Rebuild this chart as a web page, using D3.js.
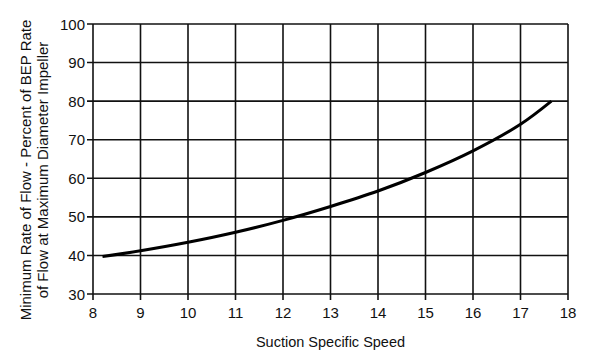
<!DOCTYPE html>
<html><head><meta charset="utf-8">
<script src="https://cdn.jsdelivr.net/npm/d3@7"></script>
<style>body{margin:0;background:#fff}svg{display:block}text{font-family:"Liberation Sans",Arial,sans-serif;fill:#111}</style>
</head><body>
<script>
const xTicks = [8,9,10,11,12,13,14,15,16,17,18];
const yTicks = [30,40,50,60,70,80,90,100];
const speed = [8.2, 9, 10, 11, 12, 13, 14, 15, 16, 17, 17.65];
const minFlow = [39.7, 41.2, 43.4, 46.0, 49.1, 52.7, 56.7, 61.5, 67.1, 74.0, 80.0];
const yLabelLines = ["Minimum Rate of Flow - Percent of BEP Rate", "of Flow at Maximum Diameter Impeller"];
const xLabel = "Suction Specific Speed";

const W=600,H=358;
const m={left:93,right:32,top:24,bottom:64};
const svg=d3.select("body").append("svg").attr("width",W).attr("height",H);
const x=d3.scaleLinear().domain([8,18]).range([m.left,W-m.right]);
const y=d3.scaleLinear().domain([30,100]).range([H-m.bottom,m.top]);

const g=svg.append("g");
// grid
g.selectAll("line.vx").data(xTicks).enter().append("line")
 .attr("x1",d=>x(d)).attr("x2",d=>x(d)).attr("y1",y(100)).attr("y2",y(30)+6)
 .attr("stroke","#111").attr("stroke-width",1.6);
g.selectAll("line.hy").data(yTicks).enter().append("line")
 .attr("x1",x(8)-6).attr("x2",x(18)).attr("y1",d=>y(d)).attr("y2",d=>y(d))
 .attr("stroke","#111").attr("stroke-width",1.6);

// tick labels
g.selectAll("text.xt").data(xTicks).enter().append("text")
 .attr("x",d=>x(d)).attr("y",y(30)+24).attr("text-anchor","middle")
 .attr("font-size",15).text(d=>d);
g.selectAll("text.yt").data(yTicks).enter().append("text")
 .attr("x",x(8)-8).attr("y",d=>y(d)+5.5).attr("text-anchor","end")
 .attr("font-size",15).text(d=>d);

// curve
const pts=speed.map((s,i)=>[s,minFlow[i]]);
g.append("path").datum(pts)
 .attr("d",d3.line().x(d=>x(d[0])).y(d=>y(d[1])).curve(d3.curveCatmullRom))
 .attr("fill","none").attr("stroke","#000").attr("stroke-width",3);

// axis labels
svg.append("text").attr("x",(x(8)+x(18))/2).attr("y",347).attr("text-anchor","middle")
 .attr("font-size",14.5).text(xLabel);
const yl=svg.append("text").attr("transform","translate(31,170) rotate(-90)").attr("text-anchor","middle").attr("font-size",15);
yl.selectAll("tspan").data(yLabelLines).enter().append("tspan")
 .attr("x",0).attr("dy",(d,i)=>i?17:0).text(d=>d);
</script>
</body></html>
